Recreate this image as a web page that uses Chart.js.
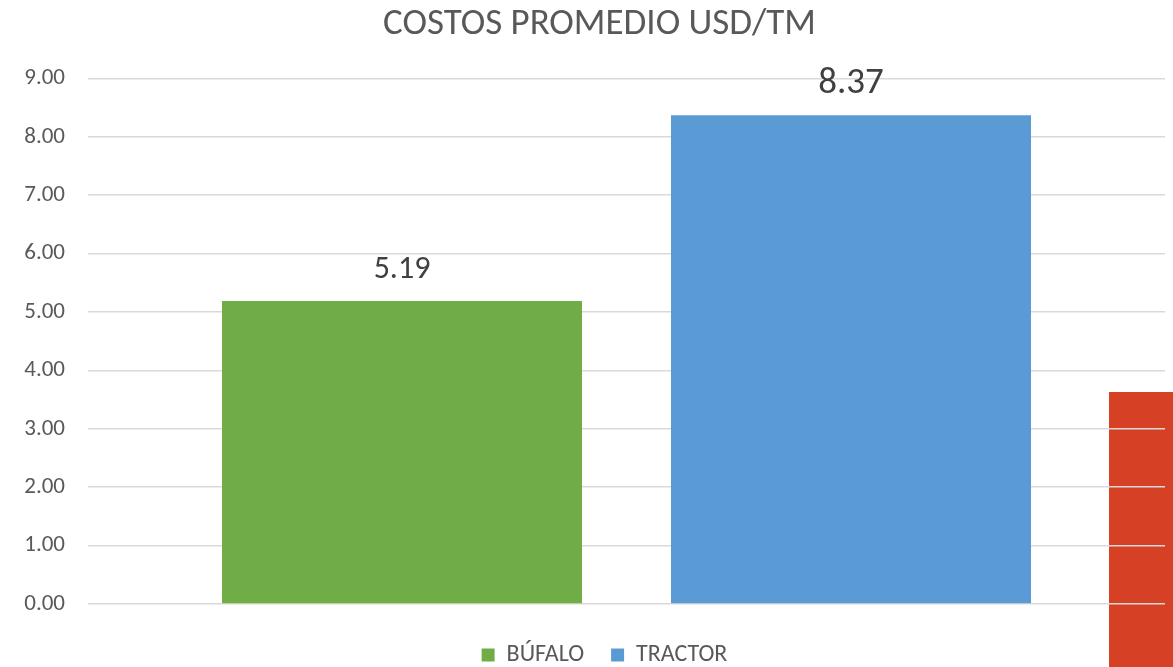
<!DOCTYPE html>
<html lang="es">
<head>
    <meta charset="UTF-8">
    <title>Costos promedio USD/TM</title>
    <script src="https://cdn.jsdelivr.net/npm/chart.js"></script>
    <style>
        * {
            margin: 0;
            padding: 0;
            box-sizing: border-box;
        }

        body {
            background: #ffffff;
            width: 1173px;
            height: 667px;
            overflow: hidden;
            position: relative;
        }

        /* recorte rojo que asoma en el borde derecho */
        .red-strip {
            position: absolute;
            left: 1109px;
            top: 392px;
            width: 64px;
            height: 275px;
            background: #d64126;
            z-index: 0;
        }

        .chart-box {
            position: absolute;
            left: 0;
            top: 0;
            width: 1173px;
            height: 667px;
            z-index: 1;
        }
    </style>
</head>
<body>
    <div class="red-strip"></div>
    <div class="chart-box">
        <canvas id="costos"></canvas>
    </div>

    <script>
        // Datos
        const categorias = [''];
        const series = ['BÚFALO', 'TRACTOR'];
        const valoresBufalo = [5.19];
        const valoresTractor = [8.37];
        const yTicks = [0, 1, 2, 3, 4, 5, 6, 7, 8, 9];

        const colores = ['#70ad47', '#5b9bd5'];
        const tamEtiqueta = [32, 37];
        const fuente = "Carlito, Lato, 'Noto Sans', sans-serif";

        // Etiquetas de valor sobre cada barra
        const etiquetasValor = {
            id: 'etiquetasValor',
            afterDatasetsDraw(chart) {
                const ctx = chart.ctx;
                ctx.save();
                chart.data.datasets.forEach((ds, i) => {
                    const meta = chart.getDatasetMeta(i);
                    meta.data.forEach((bar, j) => {
                        ctx.font = tamEtiqueta[i] + 'px ' + fuente;
                        ctx.fillStyle = '#404040';
                        ctx.textAlign = 'center';
                        ctx.textBaseline = 'middle';
                        ctx.fillText(ds.data[j].toFixed(2), bar.x, bar.y - 31);
                    });
                });
                ctx.restore();
            }
        };

        // El título y la leyenda del original no están centrados en el lienzo
        const desplazar = {
            id: 'desplazar',
            afterLayout(chart) {
                chart.titleBlock.left += 17;
                chart.titleBlock.right += 17;
                chart.legend.left += 22;
                chart.legend.right += 22;
            }
        };

        const ctx = document.getElementById('costos').getContext('2d');
        new Chart(ctx, {
            type: 'bar',
            data: {
                labels: categorias,
                datasets: [{
                    label: series[0],
                    data: valoresBufalo,
                    backgroundColor: colores[0]
                },
                {
                    label: series[1],
                    data: valoresTractor,
                    backgroundColor: colores[1]
                }]
            },
            options: {
                responsive: true,
                maintainAspectRatio: false,
                animation: false,
                layout: {
                    padding: { left: 0, right: 8, top: 0, bottom: -10 }
                },
                datasets: {
                    bar: {
                        categoryPercentage: 0.8338,
                        barPercentage: 0.8018
                    }
                },
                plugins: {
                    title: {
                        display: true,
                        text: 'COSTOS PROMEDIO USD/TM',
                        color: '#595959',
                        font: { family: fuente, size: 37, weight: 'normal' },
                        padding: { top: 3, bottom: 31 }
                    },
                    legend: {
                        position: 'bottom',
                        labels: {
                            color: '#595959',
                            font: { family: fuente, size: 24 },
                            boxWidth: 13,
                            boxHeight: 13,
                            padding: 27
                        }
                    },
                    tooltip: { enabled: false }
                },
                scales: {
                    x: {
                        display: true,
                        afterFit(scale) {
                            scale.height = 12;
                        },
                        border: { display: false },
                        grid: { display: false },
                        ticks: { display: false }
                    },
                    y: {
                        min: 0,
                        max: 9,
                        afterFit(scale) {
                            scale.width = 88;
                        },
                        afterBuildTicks(scale) {
                            scale.ticks = yTicks.map(v => ({ value: v }));
                        },
                        border: { display: false },
                        grid: {
                            color: '#d9d9d9',
                            lineWidth: 1.5,
                            drawTicks: false
                        },
                        ticks: {
                            padding: 23,
                            color: '#595959',
                            font: { family: fuente, size: 23 },
                            callback: v => v.toFixed(2)
                        }
                    }
                }
            },
            plugins: [etiquetasValor, desplazar]
        });
    </script>
</body>
</html>
